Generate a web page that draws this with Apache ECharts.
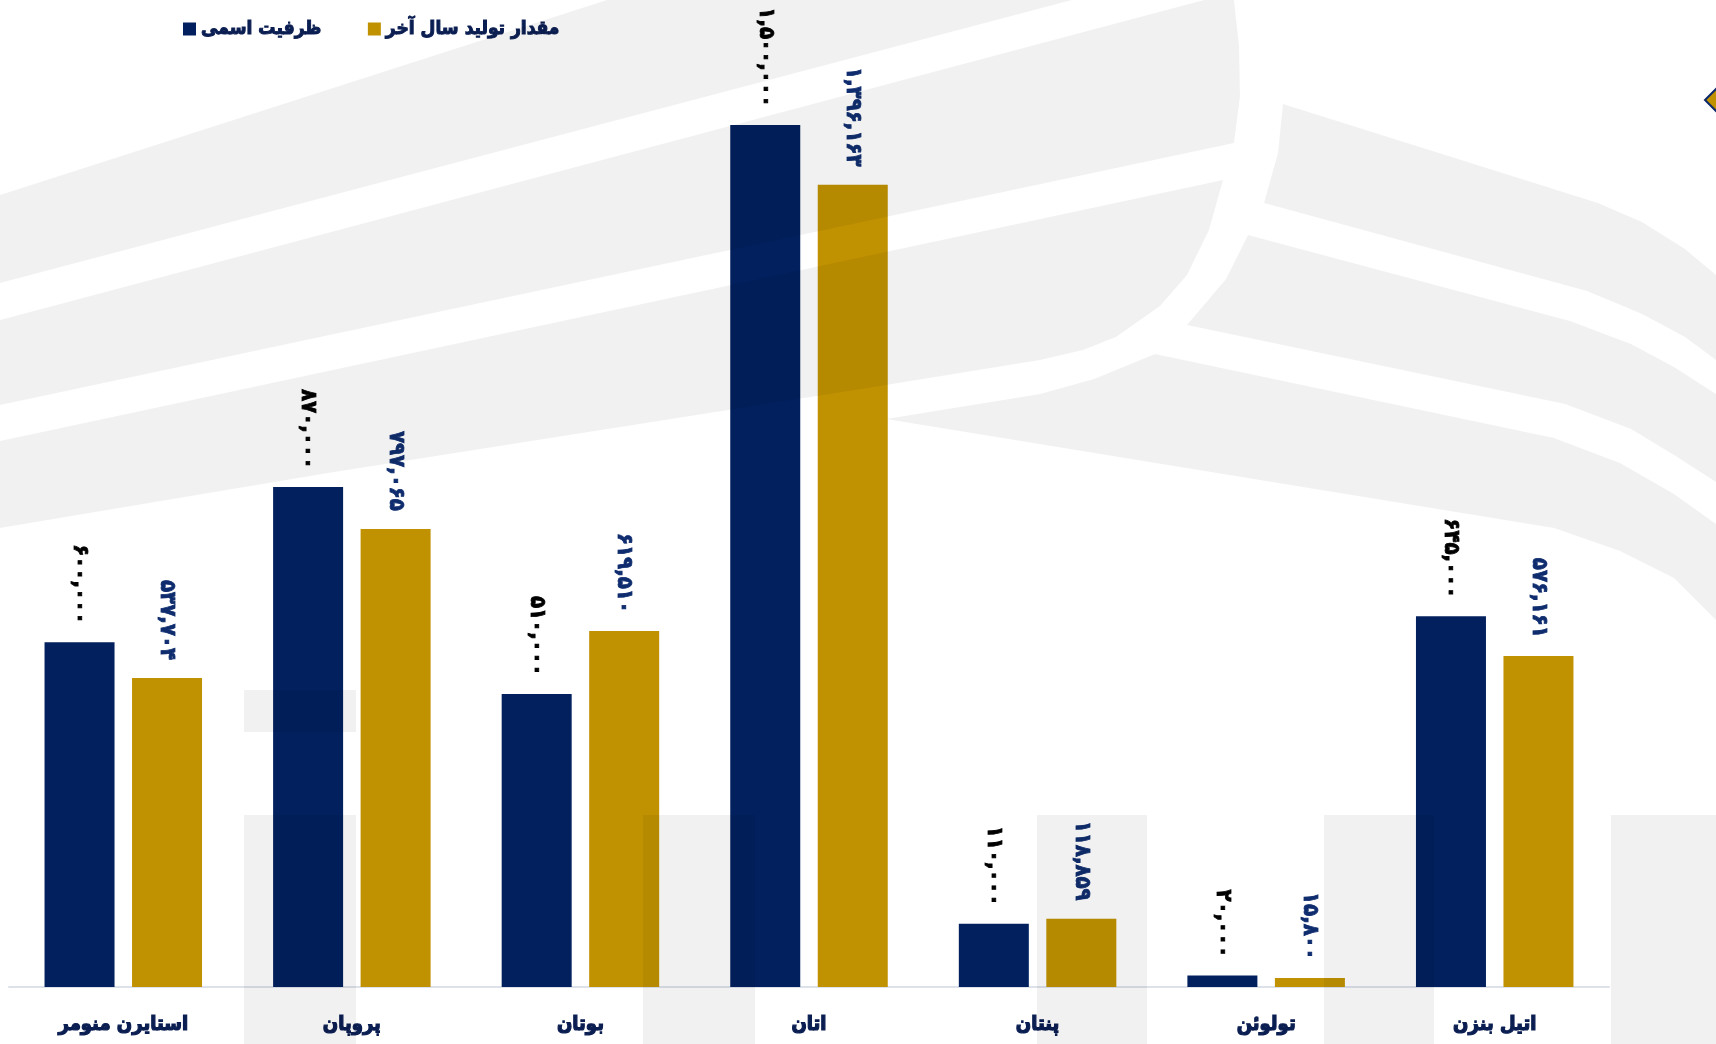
<!DOCTYPE html>
<html>
<head>
<meta charset="utf-8">
<script src="https://cdn.jsdelivr.net/npm/echarts@6/dist/echarts.min.js"></script>
<style>
html,body{margin:0;padding:0;background:#fff;}
#chart{width:1716px;height:1044px;}
</style>
</head>
<body>
<div id="chart"></div>
<script>
var categories = ['استایرن منومر', 'پروپان', 'بوتان', 'اتان', 'پنتان', 'تولوئن', 'اتیل بنزن'];
var seriesNames = ['ظرفیت اسمی', 'مقدار تولید سال آخر'];
var capacity = [600000, 870000, 510000, 1500000, 110000, 20000, 645000];
var production = [537704, 797065, 619510, 1396163, 118859, 15800, 576161];

var NAVY = '#02205E';
var GOLD = '#C09100';
var TEXT_NAVY = '#0B1E52';
var LABEL_NAVY = '#0F2D6E';
var FONT = "'DejaVu Sans Condensed', 'DejaVu Sans', sans-serif";
var SHADE = 'rgba(0,0,0,0.055)';

function fa(v) {
  return v.toLocaleString('en-US').replace(/\d/g, function (d) { return '۰۱۲۳۴۵۶۷۸۹'[+d]; });
}

function poly(pts) {
  return { type: 'polygon', z: 50, silent: true, shape: { points: pts }, style: { fill: SHADE } };
}
function rect(x, y, w, h) {
  return { type: 'rect', z: 50, silent: true, shape: { x: x, y: y, width: w, height: h }, style: { fill: SHADE } };
}

var decor = [
  poly([[607,0],[1072,0],[0,283],[0,195]]),
  poly([[1204,0],[1234,0],[1239,46],[1240,96],[1234,143],[0,405],[0,320]]),
  poly([[1223,180],[1209,230],[1187,275],[1160,306],[1116,337],[1083,350],[1040,360],[886,385],[722,411],[328,473],[0,528],[0,441]]),
  poly([[1283,104],[1598,203],[1642,222],[1685,249],[1716,275],[1716,360],[1685,337],[1642,314],[1587,291],[1264,203],[1278,153]]),
  poly([[1248,235],[1570,321],[1631,344],[1674,367],[1716,394],[1716,482],[1674,455],[1631,429],[1565,404],[1187,325],[1226,279]]),
  poly([[1155,354],[1554,438],[1620,463],[1674,494],[1716,524],[1716,620],[1674,578],[1620,551],[1554,528],[886,419],[1040,394],[1094,379]]),
  rect(244, 690, 112, 42),
  rect(244, 815, 112, 229),
  rect(643, 815, 112, 229),
  rect(1037, 815, 110, 229),
  rect(1324, 815, 110, 229),
  rect(1611, 815, 105, 229),
  { type: 'polygon', z: 60, silent: true, shape: { points: [[1705,100],[1718,87],[1731,100],[1718,113]] },
    style: { fill: GOLD, stroke: '#0D2A6B', lineWidth: 2 } }
];

function valueLabel(color) {
  return {
    show: true, position: 'top', rotate: -90, align: 'right', verticalAlign: 'middle', distance: 18,
    color: color, fontSize: 22, fontWeight: 'bold', fontFamily: FONT,
    textBorderColor: color, textBorderWidth: 0.8,
    formatter: function (p) { return fa(p.value); }
  };
}

var chart = echarts.init(document.getElementById('chart'));
chart.setOption({
  animation: false,
  backgroundColor: '#fff',
  textStyle: { fontFamily: FONT },
  legend: {
    data: seriesNames,
    left: 178,
    top: 14,
    itemWidth: 13,
    itemHeight: 13,
    itemGap: 46,
    icon: 'rect',
    textStyle: { color: TEXT_NAVY, fontSize: 19, fontWeight: 'bold', fontFamily: FONT,
      textBorderColor: TEXT_NAVY, textBorderWidth: 1, padding: [8, 0, 0, 0] }
  },
  grid: { left: 9, right: 107, top: 67.5, bottom: 57 },
  xAxis: {
    type: 'category',
    data: categories,
    axisLine: { lineStyle: { color: '#DDE2EA', width: 2 } },
    axisTick: { show: false },
    axisLabel: { color: TEXT_NAVY, fontSize: 20, fontWeight: 'bold', fontFamily: FONT, margin: 28,
      textBorderColor: TEXT_NAVY, textBorderWidth: 1.2 },
    splitLine: { show: false }
  },
  yAxis: { type: 'value', min: 0, max: 1600000, show: false, splitLine: { show: false } },
  series: [
    {
      name: seriesNames[0], type: 'bar', data: capacity, barWidth: 70, barGap: '25%',
      itemStyle: { color: NAVY },
      label: valueLabel('#000000')
    },
    {
      name: seriesNames[1], type: 'bar', data: production, barWidth: 70,
      itemStyle: { color: GOLD },
      label: valueLabel(LABEL_NAVY)
    }
  ],
  graphic: decor
});
</script>
</body>
</html>
